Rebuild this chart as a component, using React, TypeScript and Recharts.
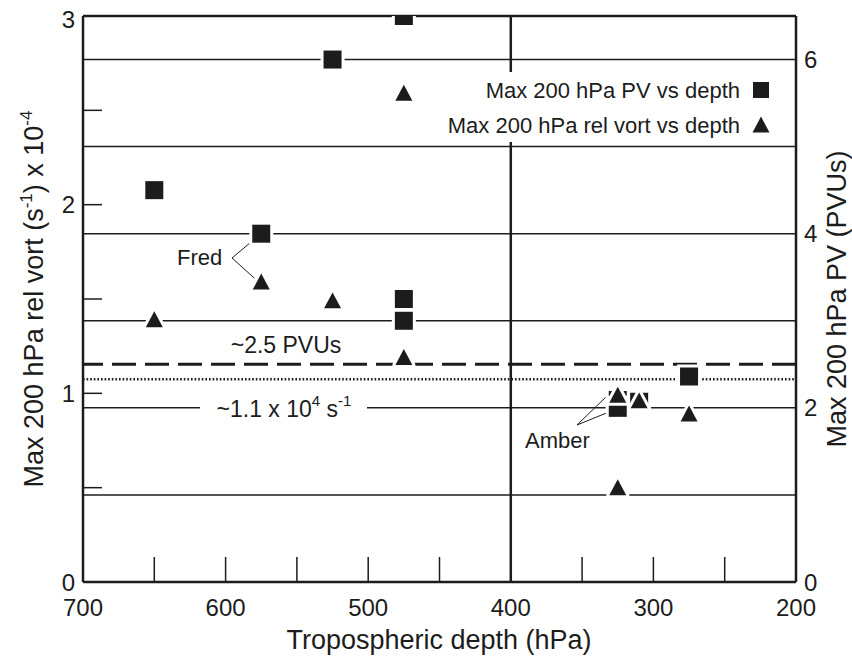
import React from "react";
import { ScatterChart, Scatter, XAxis, YAxis, ReferenceLine } from "recharts";

const INK = "#1c1c1c";
const FONT = "'Liberation Sans', Arial, Helvetica, sans-serif";

/* -------- data -------- */
const pvDepth = [650, 575, 525, 475, 475, 475, 325, 325, 310, 275];
const pvValue = [4.5, 4.0, 6.0, 6.5, 3.25, 3.0, 2.09, 2.0, 2.07, 2.36];

const vortDepth = [650, 575, 525, 475, 475, 325, 325, 310, 275];
const vortValue = [1.39, 1.59, 1.49, 2.59, 1.19, 0.99, 0.5, 0.96, 0.89];

const depthTicks = [700, 650, 600, 550, 500, 450, 400, 350, 300, 250, 200];
const leftTicks = [0, 0.5, 1, 1.5, 2, 2.5, 3];
const rightTicks = [0, 2, 4, 6];
const pvGridLines = [1, 2, 3, 4, 5, 6];

const PV_LINE = 2.5;     // ~2.5 PVUs dashed line (right axis)
const VORT_LINE = 1.075; // ~1.1 x 10^4 s^-1 dotted line (left axis)

/* -------- layout -------- */
const W = 852, H = 657;
const PLOT = { left: 83, right: 796, top: 16, bottom: 582 };
const X_DOMAIN: [number, number] = [200, 700];
const L_DOMAIN: [number, number] = [0, 3];
const R_DOMAIN: [number, number] = [0, 6.5];

const px = (d: number) => PLOT.left + ((X_DOMAIN[1] - d) / (X_DOMAIN[1] - X_DOMAIN[0])) * (PLOT.right - PLOT.left);
const pyL = (v: number) => PLOT.bottom - (v / L_DOMAIN[1]) * (PLOT.bottom - PLOT.top);
const pyR = (v: number) => PLOT.bottom - (v / R_DOMAIN[1]) * (PLOT.bottom - PLOT.top);

const pvData = pvDepth.map((d, i) => ({ depth: d, value: pvValue[i] }));
const vortData = vortDepth.map((d, i) => ({ depth: d, value: vortValue[i] }));
// single anchor so the in-plot annotation layer sits above the reference lines
const annotationAnchor = [{ depth: X_DOMAIN[1], value: 0 }];

/* -------- markers (white halo, like the print) -------- */
function SquareMark(props: any) {
  const { cx, cy } = props;
  if (cx == null || cy == null) return null;
  return (
    <g>
      <rect x={cx - 12} y={cy - 12} width={24} height={24} fill="#fff" />
      <rect x={cx - 9} y={cy - 9} width={18} height={18} fill={INK} />
    </g>
  );
}

function triPoints(cx: number, cy: number, s = 8.5) {
  return `${cx},${cy - s} ${cx + s},${cy + s * 0.88} ${cx - s},${cy + s * 0.88}`;
}

function TriangleMark(props: any) {
  const { cx, cy } = props;
  if (cx == null || cy == null) return null;
  return (
    <g>
      <polygon points={triPoints(cx, cy)} fill="#fff" stroke="#fff" strokeWidth={6} strokeLinejoin="round" />
      <polygon points={triPoints(cx, cy)} fill={INK} />
    </g>
  );
}

/* -------- ticks -------- */
function XTick(props: any) {
  const { x, y, payload } = props;
  const v = payload.value;
  const inner = v !== 700 && v !== 200 && v !== 400;
  return (
    <g>
      {inner && <line x1={x} x2={x} y1={y} y2={y - 25} stroke={INK} strokeWidth={1.5} />}
      {v % 100 === 0 && (
        <text x={x} y={y + 25} textAnchor="middle" dominantBaseline="central" fontSize={24} fill={INK} fontFamily={FONT}>
          {v}
        </text>
      )}
    </g>
  );
}

function LeftTick(props: any) {
  const { x, y, payload } = props;
  const v = payload.value;
  const inner = v > 0 && v < 3;
  return (
    <g>
      {inner && <line x1={x} x2={x + 19} y1={y} y2={y} stroke={INK} strokeWidth={1.5} />}
      {Number.isInteger(v) && (
        <text x={x - 8} y={v === 3 ? y + 3 : y} textAnchor="end" dominantBaseline="central" fontSize={24} fill={INK} fontFamily={FONT}>
          {v}
        </text>
      )}
    </g>
  );
}

function RightTick(props: any) {
  const { x, y, payload } = props;
  return (
    <text x={x + 8} y={y} textAnchor="start" dominantBaseline="central" fontSize={24} fill={INK} fontFamily={FONT}>
      {payload.value}
    </text>
  );
}

/* -------- legend, labels, leader lines (inside the plot) -------- */
function Annotations() {
  const fredSq = { x: px(pvDepth[1]), y: pyR(pvValue[1]) };
  const fredTri = { x: px(vortDepth[1]), y: pyL(vortValue[1]) };
  const amberTri = { x: px(vortDepth[5]), y: pyL(vortValue[5]) };
  const amberSq = { x: px(pvDepth[7]), y: pyR(pvValue[7]) };

  return (
    <g fontFamily={FONT} fill={INK}>
      <rect x={438} y={72} width={310} height={70} fill="#fff" />
      <text x={740} y={90} textAnchor="end" dominantBaseline="central" fontSize={22}>
        Max 200 hPa PV vs depth
      </text>
      <text x={740} y={125} textAnchor="end" dominantBaseline="central" fontSize={22}>
        Max 200 hPa rel vort vs depth
      </text>
      <rect x={753} y={82} width={16} height={16} fill={INK} />
      <polygon points={triPoints(761, 125, 8.5)} fill={INK} />

      <text x={286} y={345} textAnchor="middle" dominantBaseline="central" fontSize={23}>
        ~2.5 PVUs
      </text>

      <rect x={200} y={396} width={167} height={24} fill="#fff" />
      <text x={284} y={409} textAnchor="middle" dominantBaseline="central" fontSize={23}>
        ~1.1 x 10<tspan dy={-9} fontSize={15}>4</tspan>
        <tspan dy={9}> s</tspan>
        <tspan dy={-9} fontSize={15}>-1</tspan>
      </text>

      <text x={177} y={257} dominantBaseline="central" fontSize={22}>Fred</text>
      <polyline
        points={`${fredSq.x - 11},${fredSq.y + 9} 232,258 ${fredTri.x - 7},${fredTri.y - 4}`}
        fill="none" stroke={INK} strokeWidth={1}
      />

      <text x={525} y={440} dominantBaseline="central" fontSize={22}>Amber</text>
      <polyline
        points={`${amberTri.x - 11},${amberTri.y + 1} 577,425 ${amberSq.x - 11},${amberSq.y + 5}`}
        fill="none" stroke={INK} strokeWidth={1}
      />
    </g>
  );
}

export default function App() {
  return (
    <div style={{ position: "absolute", left: 0, top: 0, width: W, height: H, background: "#fff" }}>
      <ScatterChart
        width={W}
        height={H}
        margin={{ top: PLOT.top, right: 0, bottom: 0, left: 0 }}
        style={{ fontFamily: FONT }}
      >
        <XAxis
          type="number"
          dataKey="depth"
          domain={X_DOMAIN}
          reversed
          ticks={depthTicks}
          interval={0}
          allowDataOverflow
          height={H - PLOT.bottom}
          axisLine={{ stroke: INK, strokeWidth: 2.5 }}
          tickLine={false}
          tickSize={0}
          tickMargin={0}
          tick={<XTick />}
        />
        <YAxis
          yAxisId="left"
          type="number"
          dataKey="value"
          domain={L_DOMAIN}
          ticks={leftTicks}
          interval={0}
          allowDataOverflow
          width={PLOT.left}
          axisLine={{ stroke: INK, strokeWidth: 2.5 }}
          tickLine={false}
          tickSize={0}
          tickMargin={0}
          tick={<LeftTick />}
        />
        <YAxis
          yAxisId="right"
          orientation="right"
          type="number"
          dataKey="value"
          domain={R_DOMAIN}
          ticks={rightTicks}
          interval={0}
          allowDataOverflow
          width={W - PLOT.right}
          axisLine={{ stroke: INK, strokeWidth: 2.5 }}
          tickLine={false}
          tickSize={0}
          tickMargin={0}
          tick={<RightTick />}
        />

        {/* axis titles */}
        <g fontFamily={FONT} fill={INK}>
          <text x={439} y={649} textAnchor="middle" fontSize={27}>Tropospheric depth (hPa)</text>
          <text transform="translate(43, 299) rotate(-90)" textAnchor="middle" fontSize={27}>
            Max 200 hPa rel vort (s<tspan dy={-11} fontSize={17}>-1</tspan>
            <tspan dy={11}>) x 10</tspan>
            <tspan dy={-11} fontSize={17}>-4</tspan>
          </text>
          <text transform="translate(846, 299) rotate(-90)" textAnchor="middle" fontSize={27}>
            Max 200 hPa PV (PVUs)
          </text>
        </g>

        {pvGridLines.map((v) => (
          <ReferenceLine key={v} yAxisId="right" y={v} stroke={INK} strokeWidth={1.5} />
        ))}
        <ReferenceLine yAxisId="left" y={L_DOMAIN[1]} stroke={INK} strokeWidth={2.5} />
        <ReferenceLine yAxisId="left" x={400} stroke={INK} strokeWidth={2.5} />
        <ReferenceLine yAxisId="right" y={PV_LINE} stroke={INK} strokeWidth={3} strokeDasharray="24 9" />
        <ReferenceLine yAxisId="left" y={VORT_LINE} stroke={INK} strokeWidth={2.5} strokeDasharray="1.6 2" />

        <Scatter yAxisId="left" data={annotationAnchor} shape={() => <Annotations />} isAnimationActive={false} />
        <Scatter yAxisId="right" data={pvData} shape={<SquareMark />} isAnimationActive={false} />
        <Scatter yAxisId="left" data={vortData} shape={<TriangleMark />} isAnimationActive={false} />
      </ScatterChart>
    </div>
  );
}
